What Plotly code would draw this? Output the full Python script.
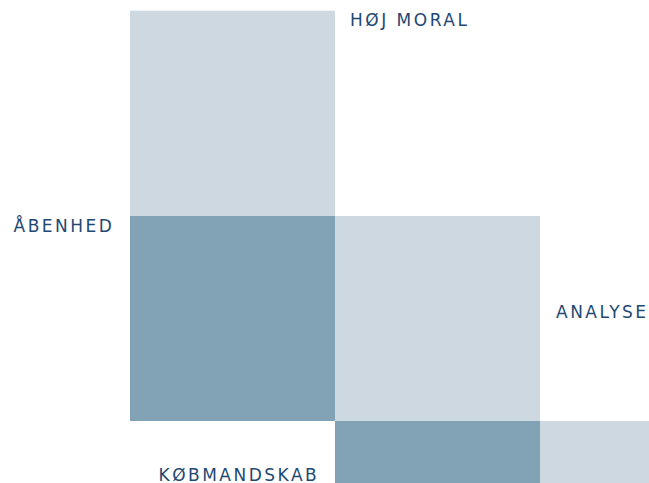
import plotly.graph_objects as go

# grid of tiles: 1 = light, 2 = dark, None = empty
columns = [0.5, 1.5, 2.5]
rows = [0.5, 1.5, 2.5]
levels = [
    [1, None, None],
    [2, 1, None],
    [None, 2, 1],
]

labels = ["HØJ MORAL", "ÅBENHED", "ANALYSE", "KØBMANDSKAB"]

LIGHT = "#CDD8E0"
DARK = "#82A3B5"
INK = "#1F4973"

fig = go.Figure()
fig.add_trace(go.Heatmap(
    x=columns, y=rows, z=levels,
    zmin=1, zmax=2,
    colorscale=[[0, LIGHT], [1, DARK]],
    showscale=False, hoverinfo="skip",
))

# label placement: (x, y, side)
spots = [
    (1.075, 0.044, "left"),
    (-0.0771, 1.050, "right"),
    (2.0765, 1.468, "left"),
    (0.9195, 2.266, "right"),
]
for text, (x, y, side) in zip(labels, spots):
    fig.add_annotation(
        x=x, y=y, text=text, showarrow=False,
        xanchor=side, yanchor="middle", align=side,
        borderpad=0, borderwidth=0,
        font=dict(family="DejaVu Sans", size=17, color=INK),
    )

cell = 205.0
fig.update_xaxes(range=[-130 / cell, 519 / cell], visible=False, fixedrange=True)
fig.update_yaxes(range=[472.3 / cell, -10.7 / cell], visible=False, fixedrange=True)
fig.update_layout(
    width=649, height=483,
    margin=dict(l=0, r=0, t=0, b=0),
    paper_bgcolor="white", plot_bgcolor="white",
    showlegend=False,
)

# no page margin, and letter-spaced labels like the original
js = (
    "document.body.style.margin='0';"
    "document.querySelectorAll('.annotation-text').forEach(function(t){t.style.letterSpacing='2.5px';});"
)
fig.write_html("out.html", post_script=js, config={"displayModeBar": False})
